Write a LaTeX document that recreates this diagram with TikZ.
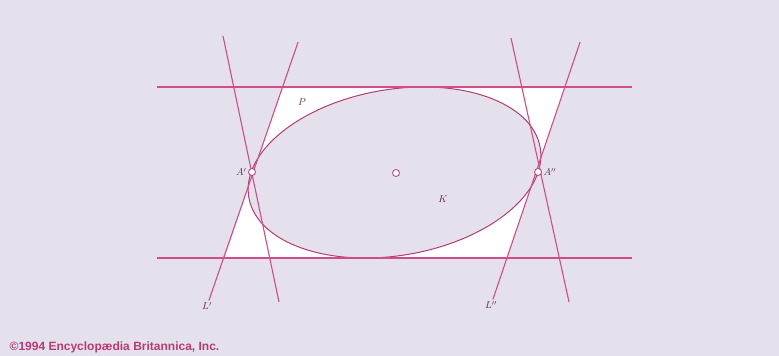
\documentclass[tikz,border=0pt]{standalone}
\usepackage{amsmath}
\usepackage{fontspec}
\newfontfamily\credfont{Liberation Sans}
\definecolor{lilac}{HTML}{E5E1EC}
\definecolor{rosy}{HTML}{D24C88}
\definecolor{rosydark}{HTML}{B83A74}
\definecolor{plum}{HTML}{5A2850}

\begin{document}
\begin{tikzpicture}[x=1pt, y=-1pt, every node/.style={inner sep=1.5pt, text=plum, font=\normalsize},
    mark point/.style={circle,draw=rosydark,fill=white,minimum size=7pt,inner sep=0pt,line width=0.8pt},
    guide/.style={draw=rosy,line width=1.1pt}]
    \fill[lilac] (0,0) rectangle (779,356);
    \useasboundingbox (0,0) rectangle (779,356);

    \fill[white] (224.8,258) -- (282.8,87) -- (564.8,87) -- (506.8,258) -- cycle;
    \filldraw[fill=lilac, draw=rosydark, line width=1pt, rotate around={9.7:(394.5,172.5)}]
        (394.5,172.5) ellipse [x radius=147.8, y radius=83];

    \coordinate (h1) at (157,87);
    \coordinate (h2) at (632,87);
    \coordinate (h3) at (157,258);
    \coordinate (h4) at (632,258);
    \draw[guide] (h1) -- (h2);
    \draw[guide] (h3) -- (h4);

    \coordinate (s1t) at (223,36);
    \coordinate (s1b) at (279,302);
    \coordinate (s2t) at (511,38);
    \coordinate (s2b) at (569,302);
    \draw[guide] (s1t) -- (s1b);
    \draw[guide] (s2t) -- (s2b);

    \node (L1) at (207,306) {$L'$};
    \node (L2) at (491,305) {$L''$};
    \coordinate (t1) at (298.1,42);
    \coordinate (t2) at (580.1,42);
    \draw[guide] (L1) -- (t1);
    \draw[guide] (L2) -- (t2);

    \node (A1) at (252,172) [mark point,label=left:$A'$] {};
    \node (A2) at (538,172) [mark point,label=right:$A''$] {};
    \node (O) at (396,173) [mark point] {};
    \node (K) at (443,199) {$K$};
    \node (P) at (302,102) {$P$};

    \node (cred) at (8,347) [anchor=west, text=rosydark, font=\credfont\bfseries\fontsize{12}{13}\selectfont]
        {©1994 Encyclopædia Britannica, Inc.};
\end{tikzpicture}
\end{document}
